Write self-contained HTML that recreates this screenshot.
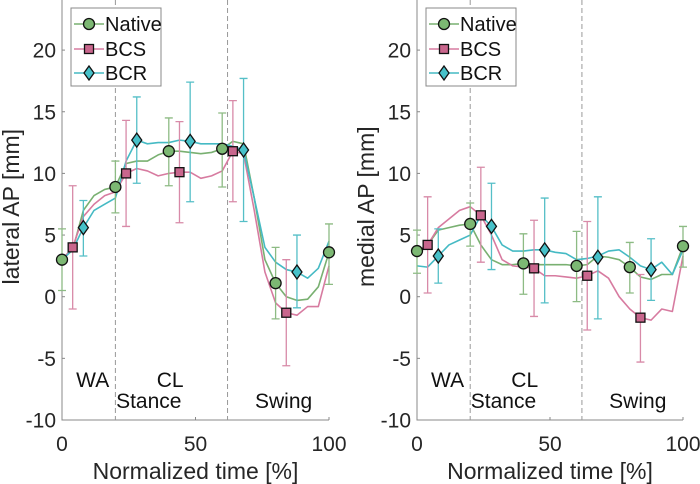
<!DOCTYPE html>
<html><head><meta charset="utf-8">
<style>
body{margin:0;background:#fff;}
svg{display:block;font-family:"Liberation Sans",sans-serif;}
</style></head>
<body>
<svg id="chart" width="700" height="484" viewBox="0 0 700 484"></svg>
<script>
const times=[0,4,8,12,16,20,24,28,32,36,40,44,48,52,56,60,64,68,72,76,80,84,88,92,96,100];
const nativeL=[3,3.8,7,8.2,8.7,8.9,10.8,11,11,11.5,11.8,11.8,11.7,11.6,11.7,12,12.6,12.4,8,3,1.1,0,-0.3,-0.2,0.8,3.6];
const bcsL=[3,4,6.5,7.5,8.2,8.5,10,10.4,10.2,9.8,10,10.1,10.1,9.6,9.8,10.2,11.8,11.6,7,2,-0.5,-1.3,-1.5,-0.8,-0.8,2.5];
const bcrL=[3,3.8,5.6,7,7.5,8,11,12.7,12.4,12.5,12.5,12.7,12.6,12.4,12.4,12.4,12.2,11.9,8,4,2.8,2.2,2,1.5,2.3,4.5];
const nativeR=[3.7,4.2,5.4,5.6,5.8,5.9,4.2,3,2.6,2.6,2.7,2.6,2.6,2.6,2.6,2.5,2.6,3.3,3.2,3,2.4,1.6,1.4,1.8,1.8,4.1];
const bcsR=[3.7,4.2,5.6,6.3,7,7.3,6.6,5,3,2.5,2.4,2.3,1.7,1.7,1.6,1.5,1.7,2.1,1.5,0,-1,-1.7,-1.9,-1,-1.2,3.3];
const bcrR=[2.5,2.4,3.3,4.2,4.6,5,6.6,5.7,4.2,3.7,3.7,3.8,3.8,3.6,3.5,3,3.1,3.3,3.7,3.8,3.2,2.5,2.2,2.8,1.8,3.8];
const nativeMkT=[0,20,40,60,80,100];
const bcsMkT=[4,24,44,64,84];
const bcrMkT=[8,28,48,68,88];
const nativeMkL=[3,8.9,11.8,12,1.1,3.6];
const nativeLoL=[0.5,6.8,9,8.9,-1.8,1];
const nativeHiL=[5.5,11,14.5,14.9,4,5.9];
const bcsMkL=[4,10,10.1,11.8,-1.3];
const bcsLoL=[-1,5.7,6,7.7,-5.6];
const bcsHiL=[9,14.3,14.2,15.9,3];
const bcrMkL=[5.6,12.7,12.6,11.9,2];
const bcrLoL=[3.3,9.2,7.7,6.1,-0.9];
const bcrHiL=[7.8,16.2,17.4,17.7,5];
const nativeMkR=[3.7,5.9,2.7,2.5,2.4,4.1];
const nativeLoR=[1.9,4.1,0.2,-0.4,0.3,2.4];
const nativeHiR=[5.4,7.6,5.1,5.3,4.4,5.7];
const bcsMkR=[4.2,6.6,2.3,1.7,-1.7];
const bcsLoR=[0.3,2.8,-1.6,-2.7,-5.3];
const bcsHiR=[8.1,10.5,6.2,6.1,1.8];
const bcrMkR=[3.3,5.7,3.8,3.2,2.2];
const bcrLoR=[1.1,2.2,-0.5,-1.8,-0.3];
const bcrHiR=[5.5,9.2,8,8.1,4.7];
const yTicks=[-10,-5,0,5,10,15,20];
const xTicks=[0,50,100];
const phaseLines=[20,62];

const NS='http://www.w3.org/2000/svg';
const svg=document.getElementById('chart');
function mk(tag,attrs,parent){const e=document.createElementNS(NS,tag);for(const k in attrs)e.setAttribute(k,attrs[k]);(parent||svg).appendChild(e);return e;}
const C={nat:{line:'#79b071',mk:'#7cb873',err:'#8dbb84'},bcs:{line:'#d77ba0',mk:'#c9668d',err:'#d88aa8'},bcr:{line:'#45bac4',mk:'#47c1c9',err:'#55bfc7'}};

function panel(x0,x1,ylabel,name,d){
  const g=mk('g',{});
  
  
  const X=t=>x0+(x1-x0)*t/100;
  const Y=v=>296.7-12.33*v;
  const ax=mk('path',{d:`M${x0},-2V${Y(-10)}H${x1}`,stroke:'#888',fill:'none','stroke-width':1},g);
  
  yTicks.forEach(v=>{
    mk('line',{x1:x0,x2:x0+3,y1:Y(v),y2:Y(v),stroke:'#888'},g);
    const t=mk('text',{x:x0-6,y:Y(v)+7.5,'text-anchor':'end','font-size':21,fill:'#262626'},g);
    t.textContent=v;
  });
  xTicks.forEach(v=>{
    mk('line',{x1:X(v),x2:X(v),y1:Y(-10),y2:Y(-10)-3,stroke:'#888'},g);
    const t=mk('text',{x:X(v),y:451,'text-anchor':'middle','font-size':21,fill:'#262626'},g);
    t.textContent=v;
  });
  phaseLines.forEach(v=>{
    const l=mk('line',{x1:X(v),x2:X(v),y1:0,y2:Y(-10),stroke:'#999','stroke-dasharray':'5,3'},g);
    
  });
  const xt=mk('text',{x:(x0+x1)/2,y:479,'text-anchor':'middle','font-size':23,fill:'#262626'},g);
  xt.textContent='Normalized time [%]';
  const yt=mk('text',{x:0,y:0,'text-anchor':'middle','font-size':23,fill:'#262626',transform:`translate(${x0-43},${Y(7.3)}) rotate(-90)`},g);
  yt.textContent=ylabel;
  [['WA',X(11.5),387],['CL',X(40.5),387],['Stance',X(32.5),408],['Swing',X(83),408]].forEach(a=>{
    const t=mk('text',{x:a[1],y:a[2],'text-anchor':'middle','font-size':21,fill:'#111'},g);
    t.textContent=a[0];
  });
  d.forEach(s=>{
    const c=C[s.k];
    const p=mk('path',{d:s.vals.map((v,i)=>(i?'L':'M')+X(times[i])+','+Y(v)).join(''),stroke:c.line,fill:'none','stroke-width':1.6,'stroke-linejoin':'round'},g);
    
  });
  d.forEach(s=>{
    const c=C[s.k];
    s.mt.forEach((t,i)=>{
      const eb=mk('path',{d:`M${X(t)},${Y(s.lo[i])}V${Y(s.hi[i])}M${X(t)-4},${Y(s.lo[i])}h8M${X(t)-4},${Y(s.hi[i])}h8`,stroke:c.err,fill:'none','stroke-width':1.3},g);
      
    });
  });
  d.forEach(s=>{
    const c=C[s.k];
    s.mt.forEach((t,i)=>{
      const cx=X(t),cy=Y(s.m[i]);let m;
      if(s.k==='nat')m=mk('circle',{cx,cy,r:5.5,fill:c.mk,stroke:'#111','stroke-width':1.3},g);
      else if(s.k==='bcs')m=mk('rect',{x:cx-4.5,y:cy-4.5,width:9,height:9,fill:c.mk,stroke:'#111','stroke-width':1.3},g);
      else m=mk('path',{d:`M${cx},${cy-7}L${cx+5},${cy}L${cx},${cy+7}L${cx-5},${cy}Z`,fill:c.mk,stroke:'#111','stroke-width':1.3},g);
      
    });
  });
  const lx=x0+9;
  const lg=mk('g',{},g);
  
  mk('rect',{x:lx,y:8,width:90,height:78,fill:'#fff',stroke:'#888'},lg);
  [['nat','Native',24],['bcs','BCS',49],['bcr','BCR',73]].forEach(e=>{
    const c=C[e[0]];
    const le=mk('g',{},lg);
    
    mk('line',{x1:lx+3,x2:lx+33,y1:e[2],y2:e[2],stroke:c.line,'stroke-width':1.6},le);
    const cx=lx+18,cy=e[2];
    if(e[0]==='nat')mk('circle',{cx,cy,r:5.5,fill:c.mk,stroke:'#111','stroke-width':1.3},le);
    else if(e[0]==='bcs')mk('rect',{x:cx-4.5,y:cy-4.5,width:9,height:9,fill:c.mk,stroke:'#111','stroke-width':1.3},le);
    else mk('path',{d:`M${cx},${cy-7}L${cx+5},${cy}L${cx},${cy+7}L${cx-5},${cy}Z`,fill:c.mk,stroke:'#111','stroke-width':1.3},le);
    const t=mk('text',{x:lx+34,y:e[2]+7,'font-size':20,fill:'#111'},le);t.textContent=e[1];
  });
}
panel(62,329,'lateral AP [mm]','left-panel',[
 {k:'nat',vals:nativeL,mt:nativeMkT,m:nativeMkL,lo:nativeLoL,hi:nativeHiL},
 {k:'bcs',vals:bcsL,mt:bcsMkT,m:bcsMkL,lo:bcsLoL,hi:bcsHiL},
 {k:'bcr',vals:bcrL,mt:bcrMkT,m:bcrMkL,lo:bcrLoL,hi:bcrHiL}]);
panel(417,683,'medial AP [mm]','right-panel',[
 {k:'nat',vals:nativeR,mt:nativeMkT,m:nativeMkR,lo:nativeLoR,hi:nativeHiR},
 {k:'bcs',vals:bcsR,mt:bcsMkT,m:bcsMkR,lo:bcsLoR,hi:bcsHiR},
 {k:'bcr',vals:bcrR,mt:bcrMkT,m:bcrMkR,lo:bcrLoR,hi:bcrHiR}]);
</script>
</body></html>
